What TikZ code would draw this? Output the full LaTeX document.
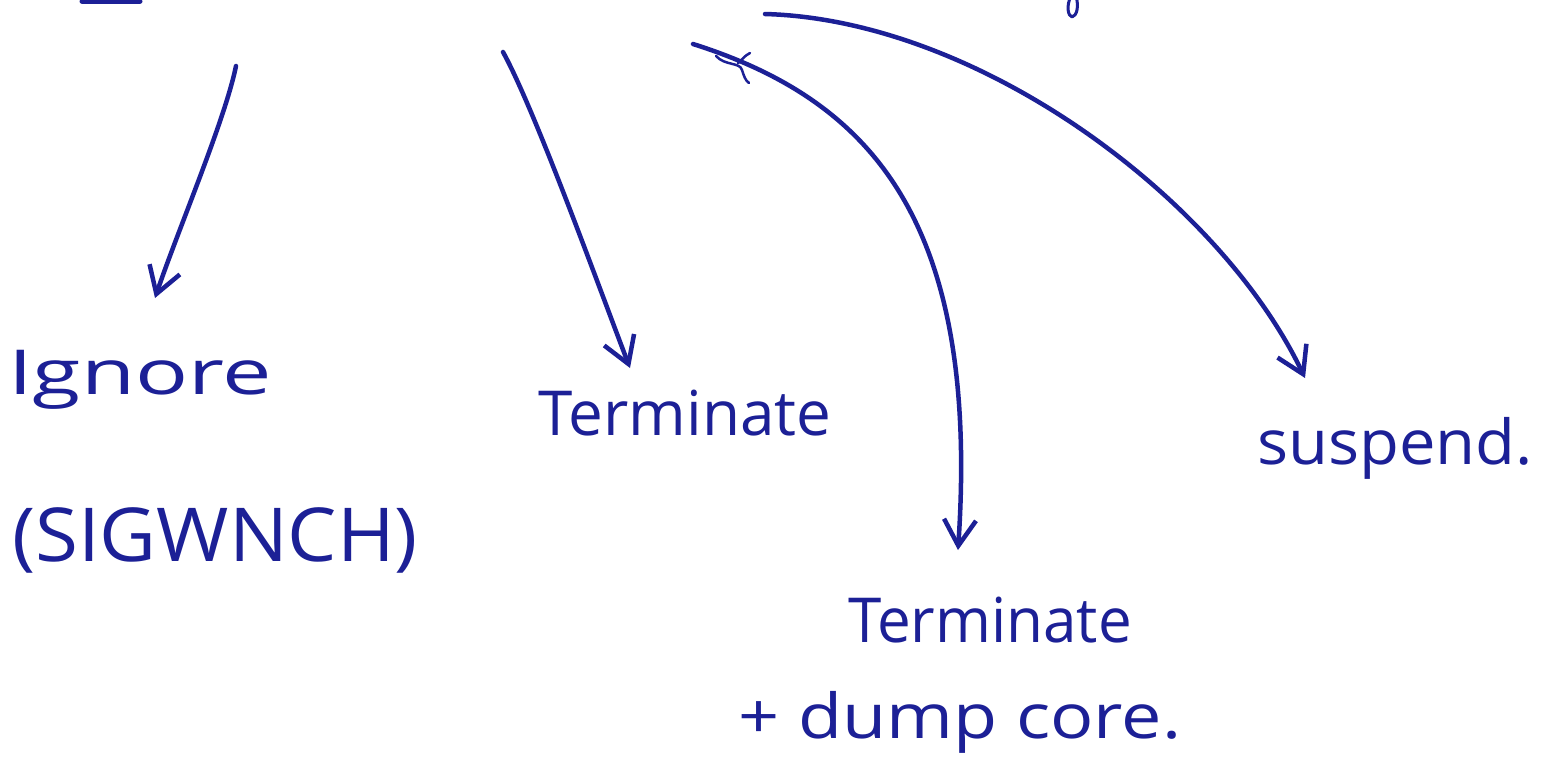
\documentclass[tikz,border=0pt]{standalone}
\usepackage{fontspec}
\usepackage{graphicx}
\setmainfont{Open Sans}
\usetikzlibrary{arrows.meta}
\definecolor{pen}{RGB}{28,32,150}
\tikzset{
  pentext/.style={text=pen, font=\fontsize{62}{68}\selectfont, inner sep=0pt},
  penline/.style={draw=pen, line width=4.5pt, line cap=round, line join=round},
  arrowline/.style={penline, -{Straight Barb[length=26pt,width=32pt]}},
}
\begin{document}
\begin{tikzpicture}[x=1pt,y=-1pt]
\fill[white] (0,0) rectangle (1554,769);
\useasboundingbox (0,0) rectangle (1554,769);

% text nodes
\node[pentext] (ignore) at (140,380) {\scalebox{1.42}[1]{Ignore}};
\node[pentext] (sig) at (215,540) {\scalebox{1.26}[1.2]{(SIGWNCH)}};
\node[pentext] (term) at (685,413) {Terminate};
\node[pentext] (term2) at (990,620) {\scalebox{0.97}[1]{Terminate}};
\node[pentext] (dump) at (960,722) {\scalebox{1.16}[1]{+ dump core.}};
\node[pentext] (susp) at (1395,448) {\scalebox{1.05}[1]{suspend.}};

% arrow start and tip coordinates
\coordinate (s1) at (236,66);
\coordinate (t1) at (155,298);
\coordinate (s2) at (503,52);
\coordinate (t2) at (630,368);
\coordinate (s3) at (693,44);
\coordinate (t3) at (958,550);
\coordinate (s4) at (765,14);
\coordinate (t4) at (1305,378);

\draw[arrowline] (s1) .. controls (225,120) and (178,230) .. (t1);
\draw[arrowline] (s2) .. controls (535,110) and (600,290) .. (t2);
\draw[arrowline] (s3) .. controls (870,100) and (980,220) .. (t3);
\draw[arrowline] (s4) .. controls (980,20) and (1220,200) .. (t4);

% small crossing squiggle near arrow start
\draw[penline, line width=2.5pt] (716,56) .. controls (725,66) and (740,62) .. (742,70) .. controls (744,76) and (745,80) .. (749,83);
\draw[penline, line width=2.5pt] (750,53) .. controls (744,56) and (742,60) .. (738,63);

% cut-off fragments at top edge
\draw[penline, line width=5pt] (82,1) -- (140,1);
\draw[penline, line width=3pt] (1071,-4) .. controls (1066,6) and (1068,16) .. (1072,17) .. controls (1077,16) and (1079,6) .. (1076,-4);
\end{tikzpicture}
\end{document}
